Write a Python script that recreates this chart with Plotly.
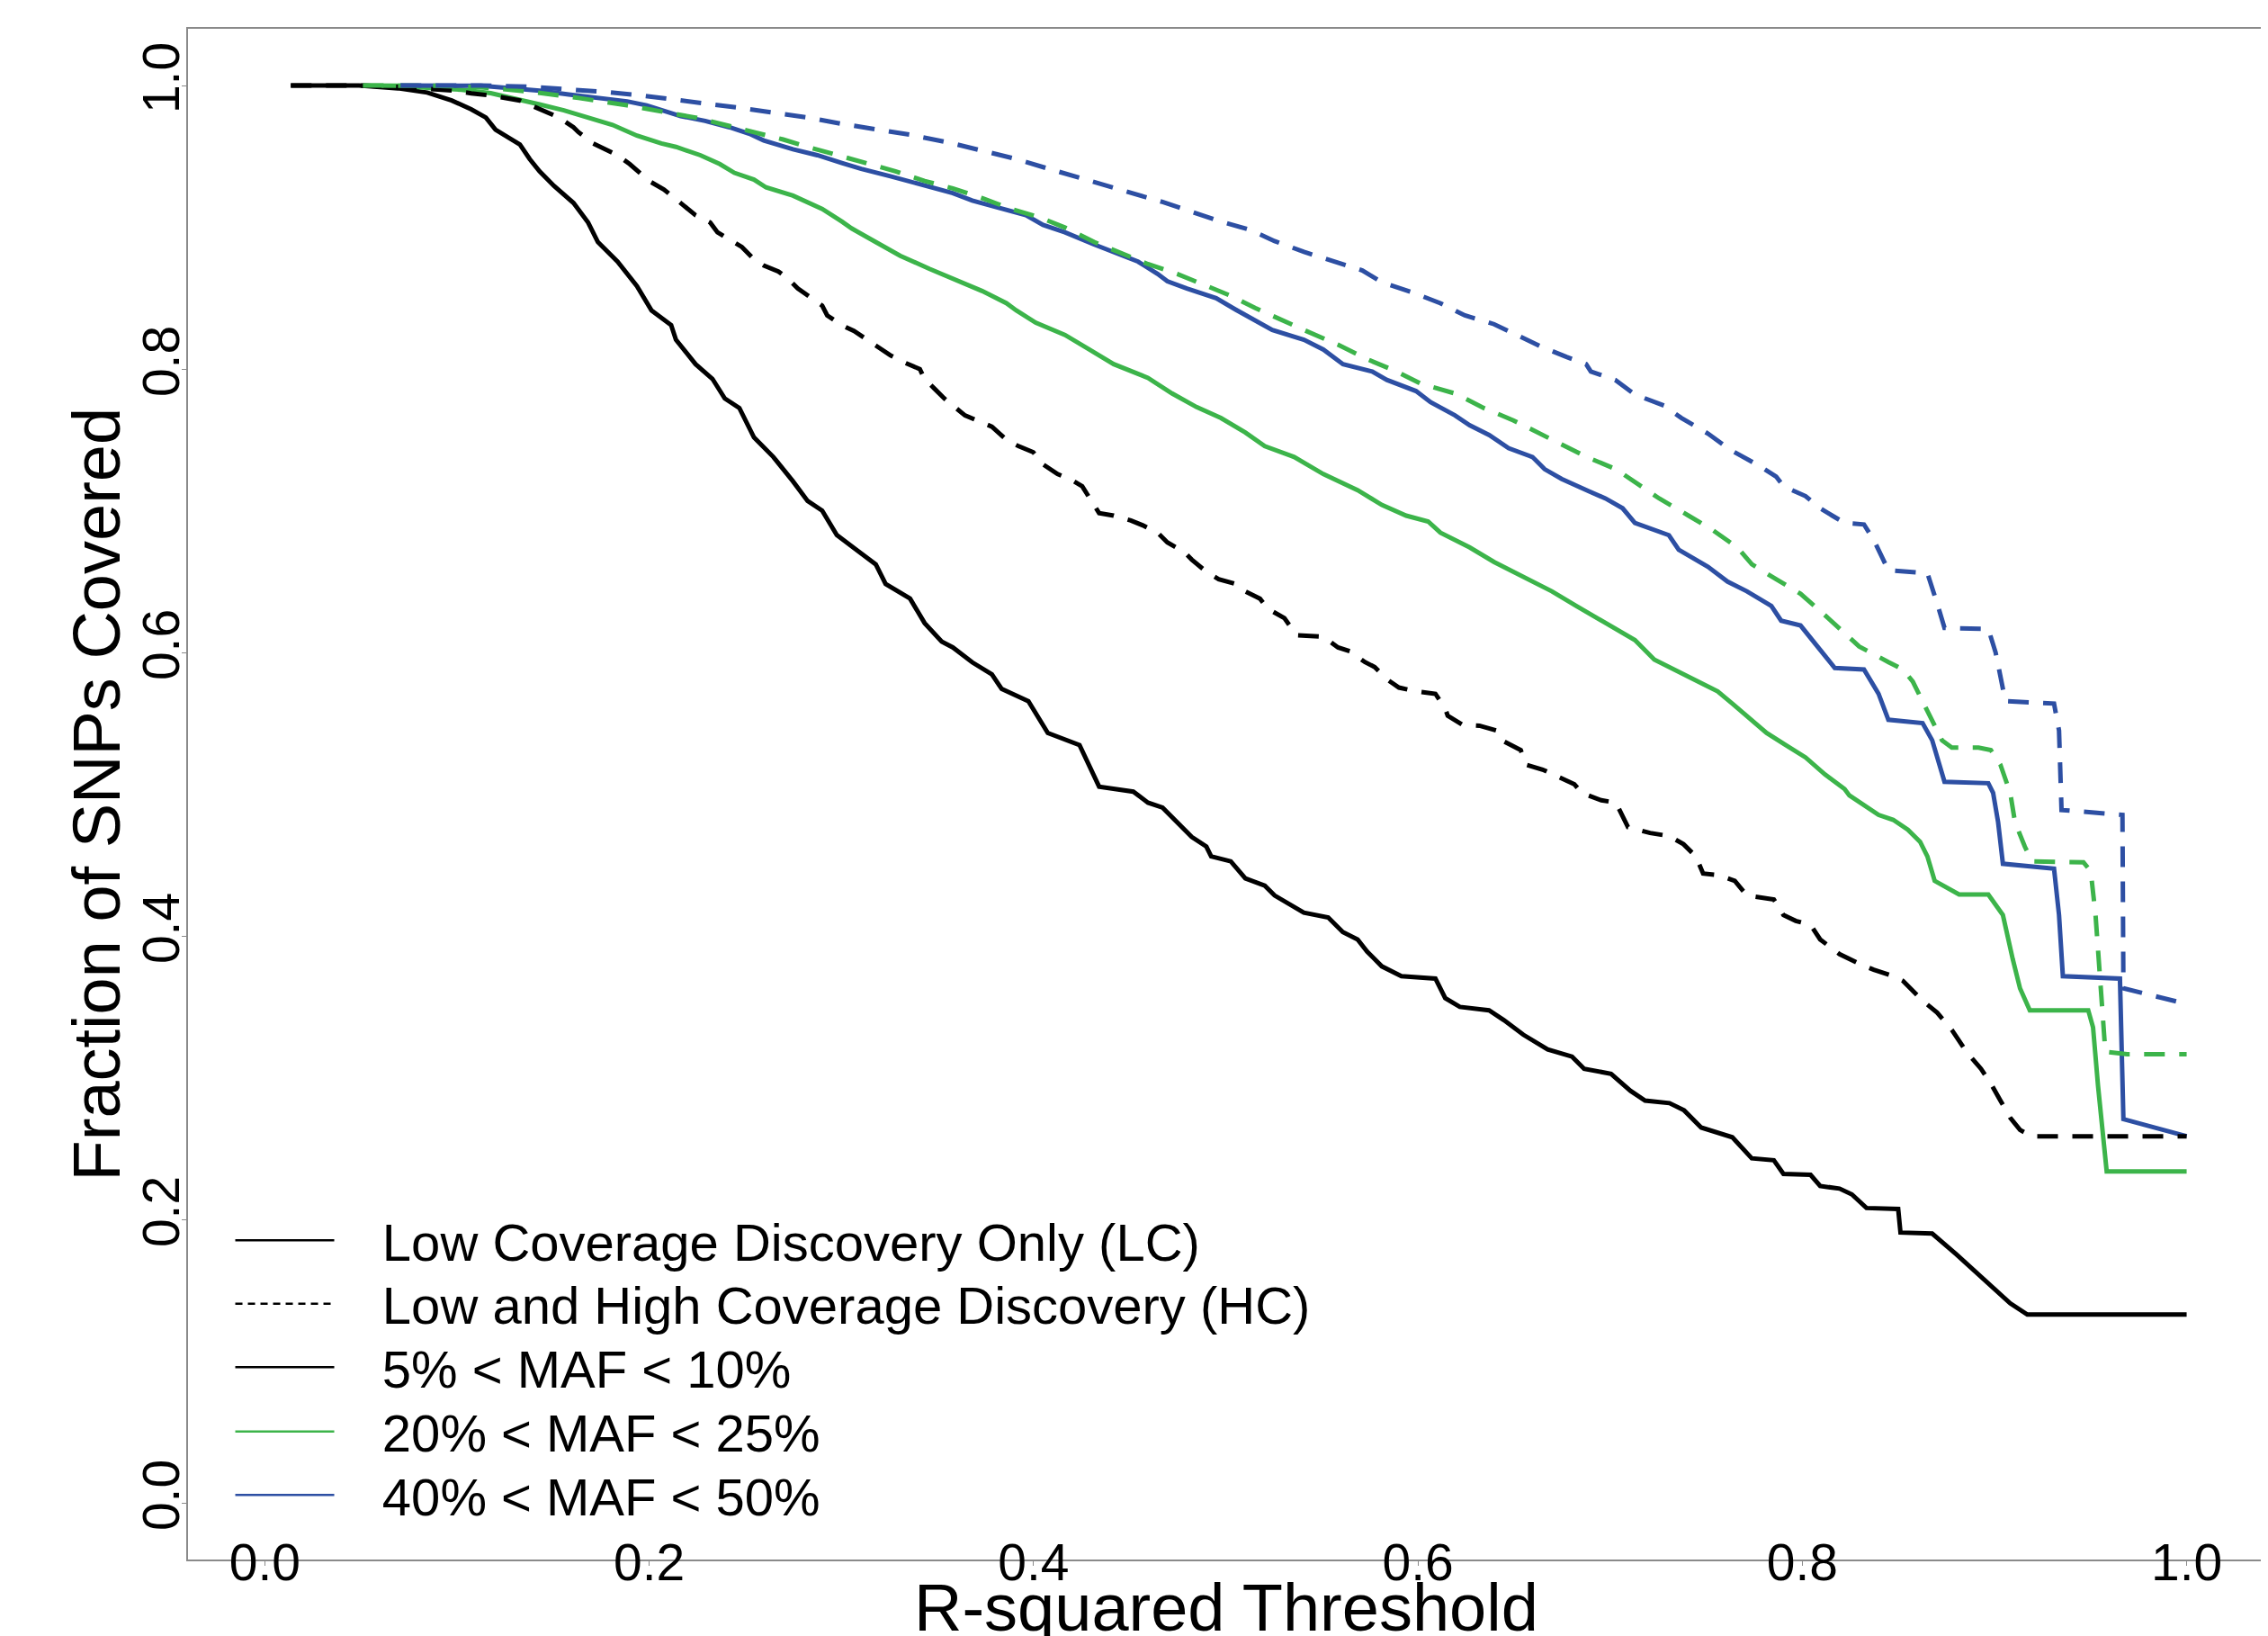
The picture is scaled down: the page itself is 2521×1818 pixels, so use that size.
import plotly.graph_objects as go

# ---------------- data ----------------
lc_maf05_x = [0.0135, 0.049, 0.0693, 0.0845, 0.0972, 0.1074, 0.115, 0.12, 0.1327, 0.1378, 0.1429, 0.1505,
              0.1606, 0.1682, 0.1733, 0.1835, 0.1936, 0.2012, 0.2114, 0.2139, 0.2241, 0.2329, 0.2393, 0.2469,
              0.2545, 0.2646, 0.2748, 0.2824, 0.29, 0.2976, 0.3078, 0.3179, 0.323, 0.3357, 0.3433, 0.3522,
              0.358, 0.3681, 0.3783, 0.3834, 0.3973, 0.4036, 0.4074, 0.4239, 0.4341, 0.4519, 0.4595, 0.4671,
              0.4747, 0.4823, 0.4899, 0.4924, 0.5026, 0.5102, 0.5203, 0.5254, 0.5406, 0.5533, 0.5609, 0.5686,
              0.5736, 0.5812, 0.5914, 0.6091, 0.6142, 0.6218, 0.637, 0.6447, 0.6548, 0.6675, 0.6802, 0.6865,
              0.7005, 0.7106, 0.7182, 0.7309, 0.7385, 0.7474, 0.7636, 0.7737, 0.7852, 0.7902, 0.8043, 0.8093,
              0.8194, 0.8258, 0.8334, 0.8499, 0.8511, 0.8676, 0.8803, 0.8955, 0.9082, 0.9171, 1.0]
lc_maf05_y = [1.0, 1.0, 0.998, 0.995, 0.9894, 0.9832, 0.9774, 0.9688, 0.9584, 0.9481, 0.9395, 0.9291,
              0.9171, 0.9033, 0.8895, 0.8757, 0.8585, 0.8413, 0.8309, 0.8206, 0.8034, 0.793, 0.7792, 0.7724,
              0.7517, 0.7379, 0.7207, 0.7069, 0.7, 0.6828, 0.6724, 0.6621, 0.6483, 0.638, 0.6207, 0.6076,
              0.6035, 0.593, 0.5845, 0.5742, 0.5656, 0.5518, 0.5432, 0.5346, 0.5053, 0.5018, 0.494, 0.4905,
              0.4802, 0.4698, 0.463, 0.4561, 0.4526, 0.4406, 0.4354, 0.4285, 0.4164, 0.413, 0.4027, 0.3975,
              0.3889, 0.3785, 0.3716, 0.3699, 0.3561, 0.3499, 0.3475, 0.3406, 0.3303, 0.3199, 0.3148, 0.3062,
              0.3027, 0.2907, 0.2838, 0.282, 0.2769, 0.2648, 0.2579, 0.2431, 0.2417, 0.2321, 0.2314, 0.2235,
              0.2217, 0.2176, 0.208, 0.2073, 0.1907, 0.19, 0.1752, 0.1563, 0.1408, 0.1328, 0.1328]

hc_maf05_x = [0.0135, 0.049, 0.0693, 0.0845, 0.0972, 0.1074, 0.1175, 0.1327, 0.1467, 0.153, 0.1606, 0.1632,
              0.1708, 0.1758, 0.1835, 0.1898, 0.1961, 0.1999, 0.2076, 0.2126, 0.219, 0.2241, 0.2317, 0.2355,
              0.2418, 0.2482, 0.2545, 0.2596, 0.2672, 0.2723, 0.2773, 0.2837, 0.29, 0.2926, 0.3002, 0.3065,
              0.3129, 0.3179, 0.3255, 0.3319, 0.3408, 0.3433, 0.3484, 0.3535, 0.3643, 0.3732, 0.3783, 0.3859,
              0.3922, 0.3998, 0.4049, 0.4125, 0.4189, 0.4253, 0.429, 0.4341, 0.4417, 0.4506, 0.4569, 0.4645,
              0.4696, 0.4785, 0.4823, 0.4899, 0.4963, 0.5051, 0.5102, 0.5178, 0.5216, 0.5305, 0.5369, 0.5508,
              0.5584, 0.5648, 0.5724, 0.5775, 0.5838, 0.5901, 0.599, 0.6091, 0.6142, 0.6155, 0.6231, 0.632,
              0.6409, 0.6447, 0.6535, 0.6561, 0.6649, 0.6738, 0.6814, 0.6852, 0.6954, 0.703, 0.7093, 0.7208,
              0.7306, 0.7382, 0.7446, 0.7484, 0.756, 0.7649, 0.7712, 0.7852, 0.7902, 0.7966, 0.8043, 0.8093,
              0.8194, 0.8308, 0.8372, 0.8473, 0.8524, 0.8625, 0.8702, 0.8778, 0.8854, 0.893, 0.8981, 0.9031,
              0.9082, 0.9133, 0.9196, 1.0]
hc_maf05_y = [1.0, 1.0, 0.999, 0.998, 0.9965, 0.9945, 0.9929, 0.9894, 0.9808, 0.9774, 0.9705, 0.967,
              0.9591, 0.9557, 0.9508, 0.9446, 0.9377, 0.9326, 0.9267, 0.9212, 0.9136, 0.9085, 0.9033, 0.8964,
              0.8912, 0.8861, 0.8774, 0.873, 0.8688, 0.8637, 0.8568, 0.8509, 0.8447, 0.8378, 0.8309, 0.8268,
              0.8206, 0.8165, 0.8096, 0.8051, 0.7999, 0.793, 0.7861, 0.7792, 0.7672, 0.762, 0.7593, 0.75,
              0.7455, 0.7413, 0.7327, 0.7258, 0.7224, 0.7172, 0.7086, 0.6983, 0.6965, 0.6931, 0.6896, 0.6845,
              0.6776, 0.6707, 0.6655, 0.6569, 0.6517, 0.6483, 0.6431, 0.638, 0.6311, 0.6242, 0.6121, 0.6111,
              0.6035, 0.6007, 0.5932, 0.5897, 0.5811, 0.5752, 0.5725, 0.5708, 0.5604, 0.5553, 0.549, 0.5483,
              0.5449, 0.5373, 0.5311, 0.5208, 0.5173, 0.5122, 0.507, 0.5008, 0.4957, 0.494, 0.4767, 0.4726,
              0.4705, 0.4647, 0.4561, 0.444, 0.443, 0.4388, 0.4285, 0.4257, 0.4147, 0.4106, 0.4078, 0.3975,
              0.3871, 0.3796, 0.3761, 0.3716, 0.3682, 0.3544, 0.3458, 0.3337, 0.3182, 0.3062, 0.2958, 0.2838,
              0.2717, 0.2631, 0.2586, 0.2586]

lc_maf20_x = [0.051, 0.0706, 0.0871, 0.1023, 0.1175, 0.1327, 0.1429, 0.1556, 0.1682, 0.1809, 0.1936, 0.2063,
              0.2139, 0.2266, 0.2367, 0.2443, 0.2545, 0.2608, 0.2748, 0.29, 0.3002, 0.3053, 0.3179, 0.3306,
              0.3458, 0.358, 0.3732, 0.3859, 0.391, 0.4011, 0.4163, 0.429, 0.4417, 0.4595, 0.4721, 0.4848,
              0.4975, 0.5102, 0.5203, 0.5356, 0.5508, 0.5686, 0.5812, 0.5939, 0.6053, 0.6117, 0.6269, 0.6396,
              0.6548, 0.6697, 0.6824, 0.6976, 0.7129, 0.723, 0.7382, 0.756, 0.7636, 0.7712, 0.7814, 0.7915,
              0.8017, 0.8118, 0.822, 0.8245, 0.8397, 0.8473, 0.8549, 0.8613, 0.8651, 0.8689, 0.8816, 0.8968,
              0.9044, 0.9095, 0.9133, 0.9184, 0.9488, 0.9513, 0.9539, 0.9584, 1.0]
lc_maf20_y = [1.0, 0.9998, 0.9981, 0.997, 0.9946, 0.9901, 0.9867, 0.9825, 0.9774, 0.9722, 0.9646, 0.9591,
              0.9567, 0.9508, 0.9446, 0.9384, 0.9336, 0.9281, 0.9223, 0.9129, 0.904, 0.8992, 0.8895, 0.8799,
              0.8706, 0.8637, 0.855, 0.8464, 0.8413, 0.8327, 0.824, 0.8137, 0.8034, 0.7937, 0.7827, 0.7731,
              0.7654, 0.7551, 0.7455, 0.7379, 0.7258, 0.7145, 0.7041, 0.6965, 0.6924, 0.6845, 0.6741, 0.6638,
              0.6535, 0.6431, 0.6328, 0.6207, 0.6087, 0.5949, 0.5845, 0.5725, 0.5639, 0.5552, 0.5432, 0.5346,
              0.5259, 0.5139, 0.5036, 0.4991, 0.4854, 0.4819, 0.475, 0.4664, 0.4561, 0.4388, 0.4292, 0.4292,
              0.4147, 0.3837, 0.363, 0.3475, 0.3475, 0.3355, 0.2941, 0.2338, 0.2338]

hc_maf20_x = [0.051, 0.0871, 0.1124, 0.1378, 0.1632, 0.1885, 0.2139, 0.2241, 0.2393, 0.2545, 0.2697, 0.2824,
              0.2976, 0.3129, 0.3281, 0.3433, 0.358, 0.3732, 0.3884, 0.4036, 0.4163, 0.4316, 0.4468, 0.4595,
              0.4747, 0.4874, 0.5026, 0.5153, 0.528, 0.5407, 0.5584, 0.5737, 0.5889, 0.6015, 0.6193, 0.6345,
              0.6497, 0.6624, 0.6751, 0.6878, 0.703, 0.7157, 0.7256, 0.7408, 0.7535, 0.7662, 0.7738, 0.7864,
              0.7991, 0.8093, 0.8194, 0.8296, 0.8448, 0.8524, 0.8575, 0.8626, 0.8676, 0.8727, 0.8778, 0.8917,
              0.8981, 0.9031, 0.9082, 0.9107, 0.9158, 0.9196, 0.9463, 0.9501, 0.9526, 0.9551, 0.9577, 0.9691,
              1.0]
hc_maf20_y = [1.0, 0.9998, 0.9988, 0.9957, 0.9912, 0.986, 0.9798, 0.9774, 0.9722, 0.967, 0.9619, 0.9567,
              0.9508, 0.9453, 0.9395, 0.9326, 0.9274, 0.9205, 0.9129, 0.9067, 0.8998, 0.8895, 0.8809, 0.874,
              0.8671, 0.8602, 0.8516, 0.843, 0.8351, 0.8275, 0.8171, 0.8068, 0.7982, 0.7896, 0.7827, 0.7723,
              0.7637, 0.7551, 0.7465, 0.7379, 0.7293, 0.7175, 0.7086, 0.6965, 0.6862, 0.6741, 0.6621, 0.6517,
              0.6414, 0.6293, 0.6173, 0.6042, 0.5932, 0.588, 0.5794, 0.5656, 0.5518, 0.538, 0.5328, 0.5328,
              0.5311, 0.5208, 0.5009, 0.4802, 0.463, 0.4526, 0.4519, 0.4457, 0.4147, 0.363, 0.3182, 0.3165,
              0.3165]

lc_maf40_x = [0.0706, 0.0921, 0.1124, 0.1277, 0.1429, 0.1581, 0.1733, 0.1885, 0.1987, 0.2088, 0.2164, 0.2291,
              0.2418, 0.252, 0.2596, 0.2748, 0.2875, 0.3002, 0.3103, 0.3255, 0.3382, 0.3484, 0.358, 0.3681,
              0.3834, 0.396, 0.4049, 0.4163, 0.4316, 0.4442, 0.4544, 0.4645, 0.4696, 0.4798, 0.495, 0.5051,
              0.5178, 0.5242, 0.5407, 0.5508, 0.561, 0.5762, 0.5838, 0.599, 0.6066, 0.6193, 0.6269, 0.6371,
              0.6472, 0.6596, 0.6659, 0.6748, 0.6888, 0.6976, 0.7065, 0.7129, 0.7306, 0.7357, 0.7509, 0.7611,
              0.7712, 0.7839, 0.789, 0.7991, 0.8093, 0.8169, 0.8321, 0.8397, 0.8448, 0.8626, 0.8676, 0.874,
              0.8968, 0.8993, 0.9019, 0.9044, 0.931, 0.9336, 0.9356, 0.9653, 0.9671, 1.0]
lc_maf40_y = [1.0, 1.0, 0.9998, 0.9981, 0.9963, 0.9936, 0.9912, 0.9888, 0.986, 0.9819, 0.9784, 0.975,
              0.9705, 0.966, 0.9612, 0.955, 0.9508, 0.9453, 0.9412, 0.936, 0.9316, 0.9281, 0.924, 0.9188,
              0.9136, 0.9085, 0.9016, 0.8964, 0.8878, 0.8809, 0.8757, 0.8671, 0.8619, 0.8568, 0.8499, 0.8419,
              0.8327, 0.8275, 0.8206, 0.8137, 0.8034, 0.7982, 0.7923, 0.7844, 0.7765, 0.7672, 0.7603, 0.7534,
              0.7441, 0.7379, 0.7293, 0.7224, 0.7138, 0.7086, 0.7017, 0.6914, 0.6827, 0.6724, 0.6604, 0.65,
              0.6431, 0.6328, 0.6224, 0.619, 0.6018, 0.589, 0.588, 0.5708, 0.5525, 0.5501, 0.538, 0.5087,
              0.5077, 0.5009, 0.4802, 0.4509, 0.4475, 0.4147, 0.3716, 0.3699, 0.2707, 0.2586]

hc_maf40_x = [0.0706, 0.1124, 0.1378, 0.1606, 0.1784, 0.1961, 0.2139, 0.2317, 0.2469, 0.2646, 0.2824, 0.3002,
              0.3179, 0.3357, 0.358, 0.3732, 0.391, 0.4062, 0.4214, 0.4366, 0.4519, 0.4671, 0.4823, 0.4975,
              0.5127, 0.5254, 0.5407, 0.5559, 0.5711, 0.5812, 0.5964, 0.6117, 0.6244, 0.6396, 0.6523, 0.6647,
              0.6773, 0.6875, 0.69, 0.7027, 0.7129, 0.7281, 0.737, 0.7509, 0.7623, 0.7763, 0.7864, 0.7902,
              0.8017, 0.8093, 0.8156, 0.822, 0.8321, 0.8372, 0.8448, 0.8651, 0.8702, 0.874, 0.8968, 0.9006,
              0.9057, 0.931, 0.9336, 0.9349, 0.9666, 0.9671, 0.9957, 1.0]
hc_maf40_y = [1.0, 1.0, 0.9991, 0.997, 0.9953, 0.9929, 0.9901, 0.987, 0.9843, 0.9808, 0.9774, 0.9729,
              0.9695, 0.9653, 0.9591, 0.9543, 0.9481, 0.9419, 0.936, 0.9302, 0.924, 0.9178, 0.9109, 0.904,
              0.8981, 0.8902, 0.8826, 0.8764, 0.8695, 0.8612, 0.8544, 0.8464, 0.8378, 0.8316, 0.8233, 0.8154,
              0.8085, 0.8034, 0.7982, 0.7923, 0.782, 0.7741, 0.7655, 0.7544, 0.7431, 0.7327, 0.7241, 0.7172,
              0.7103, 0.7017, 0.6965, 0.6914, 0.6903, 0.6793, 0.6579, 0.6559, 0.6345, 0.6173, 0.6166, 0.6,
              0.5656, 0.5639, 0.5449, 0.4888, 0.4854, 0.363, 0.3534, 0.352]

tick_vals = [0.0, 0.2, 0.4, 0.6, 0.8, 1.0]
tick_text = ["0.0", "0.2", "0.4", "0.6", "0.8", "1.0"]

legend_labels = ["Low Coverage Discovery Only (LC)", "Low and High Coverage Discovery (HC)",
                 "5% < MAF < 10%", "20% < MAF < 25%", "40% < MAF < 50%"]

x_title = "R-squared Threshold"
y_title = "Fraction of SNPs Covered"

# ---------------- styles ----------------
BLACK = "#000000"
GREEN = "#3CB44A"
BLUE = "#2D4FA3"
FONT = "Liberation Sans, Arial, sans-serif"
LW = 5
DASH = "23px,16px"
PAD = "\u00a0\u00a0\u00a0"   # visual gap between legend key and its label

# the page body has an 8px default margin: shrink the figure to fit the window
W, H = 2521 - 8, 1818 - 8
ML, MR, MT, MB = 201, 5, 24, 85

fig = go.Figure()

series = [
    (lc_maf05_x, lc_maf05_y, BLACK, "solid"),
    (lc_maf20_x, lc_maf20_y, GREEN, "solid"),
    (lc_maf40_x, lc_maf40_y, BLUE, "solid"),
    (hc_maf05_x, hc_maf05_y, BLACK, DASH),
    (hc_maf20_x, hc_maf20_y, GREEN, DASH),
    (hc_maf40_x, hc_maf40_y, BLUE, DASH),
]
for xs, ys, col, dash in series:
    fig.add_trace(go.Scatter(x=xs, y=ys, mode="lines", showlegend=False, hoverinfo="skip",
                             line=dict(color=col, width=LW, dash=dash)))

# one single-item legend per row so that row spacing matches the reference
legend_styles = [(BLACK, "solid"), (BLACK, "8px,6px"), (BLACK, "solid"), (GREEN, "solid"), (BLUE, "solid")]
legend_rows_px = [1370.6, 1441.0, 1511.5, 1583.0, 1653.5]   # row centres, figure pixels
plot_h = H - MT - MB
legend_layout = {}
for i, (lab, (col, dash), row) in enumerate(zip(legend_labels, legend_styles, legend_rows_px)):
    lname = "legend" if i == 0 else f"legend{i + 1}"
    fig.add_trace(go.Scatter(x=[None], y=[None], mode="lines", name=PAD + lab, legend=lname,
                             line=dict(color=col, width=2.5, dash=dash)))
    legend_layout[lname] = dict(
        x=0.0206, y=(H - MB - row) / plot_h, xanchor="left", yanchor="middle",
        font=dict(family=FONT, size=58, color="black"),
        bgcolor="rgba(0,0,0,0)", borderwidth=0, itemwidth=110,
    )

axis_common = dict(
    tickvals=tick_vals, ticktext=tick_text, range=[-0.04, 1.04],
    showline=True, mirror=True, linecolor="#8a8a8a", linewidth=1.5,
    showgrid=False, zeroline=False,
    ticks="outside", ticklen=5, tickcolor="#8a8a8a", tickwidth=1,
    tickfont=dict(family=FONT, size=57, color="black"),
)

fig.update_layout(
    width=W, height=H,
    margin=dict(l=ML, r=MR, t=MT, b=MB, autoexpand=False),
    paper_bgcolor="white", plot_bgcolor="white",
    font=dict(family=FONT, color="black"),
    xaxis=dict(**axis_common, ticklabelstandoff=-52),
    yaxis=dict(**axis_common, tickangle=-90, ticklabelstandoff=-20),
    annotations=[
        dict(text=y_title, textangle=-90, showarrow=False,
             xref="paper", yref="paper", x=-0.0438, y=0.5,
             xanchor="center", yanchor="middle",
             font=dict(family=FONT, size=74, color="black")),
        dict(text=x_title, showarrow=False,
             xref="paper", yref="paper", x=0.5, y=0, yshift=-10,
             xanchor="center", yanchor="top",
             font=dict(family=FONT, size=74, color="black")),
    ],
    showlegend=True,
    **legend_layout,
)

fig.write_html("out.html")
